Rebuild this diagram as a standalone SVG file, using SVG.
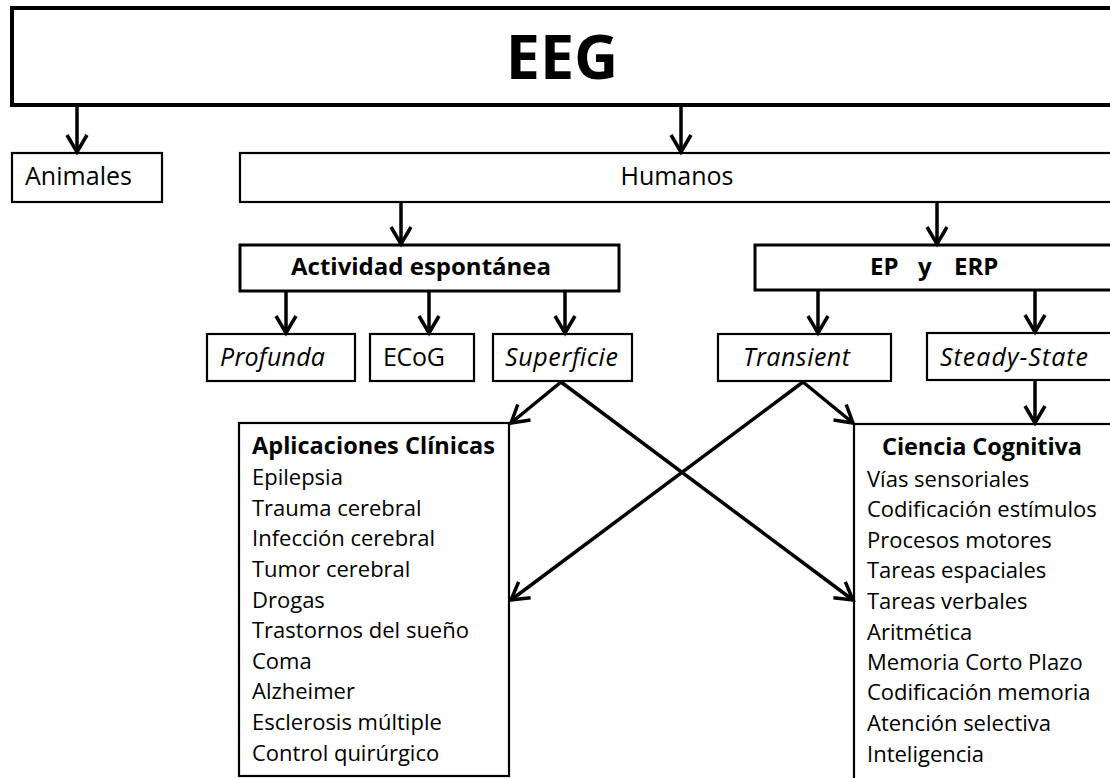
<svg xmlns="http://www.w3.org/2000/svg" width="1110" height="778" viewBox="0 0 1110 778">
<defs>
<style>
.box{fill:#fff;stroke:#000;stroke-width:2.2}
.b3{stroke-width:3}
.b4{stroke-width:4}
text{font-family:"Open Sans","Liberation Sans",sans-serif;font-size:22px;fill:#000}
.lbl{font-size:25px}
.bold{font-weight:bold}
.it{font-style:italic}
.mid{text-anchor:middle}
.conn line{stroke:#000;stroke-width:3.5;marker-end:url(#arr)}
</style>
<marker id="arr" markerUnits="userSpaceOnUse" orient="auto" refX="0" refY="0" markerWidth="40" markerHeight="40" viewBox="-20 -20 40 40" overflow="visible">
<path d="M -17 -10 L 0 0 L -17 10" fill="none" stroke="#000" stroke-width="3.5" stroke-linejoin="miter"/>
</marker>
</defs>
<rect width="1110" height="778" fill="#fff"/>
<g id="eeg"><rect class="box b4" x="12" y="8" width="1100" height="97"/><text class="bold mid" x="562" y="79" style="font-size:61px">EEG</text></g>
<g id="animales"><rect class="box" x="12" y="153" width="150" height="49"/><text class="lbl" x="25" y="185" textLength="107">Animales</text></g>
<g id="humanos"><rect class="box" x="240" y="153" width="874" height="49"/><text class="lbl mid" x="677" y="185" textLength="113">Humanos</text></g>
<g id="actividad"><rect class="box b3" x="240" y="245" width="379" height="46"/><text class="bold mid" x="421" y="275" style="font-size:24px" textLength="260">Actividad espontánea</text></g>
<g id="ep-erp"><rect class="box b3" x="755" y="245" width="360" height="45"/><text class="bold" y="275" style="font-size:24px"><tspan x="870">EP</tspan><tspan x="918">y</tspan><tspan x="954">ERP</tspan></text></g>
<g id="profunda"><rect class="box" x="207" y="334" width="148" height="47"/><text class="lbl it" x="220" y="366" textLength="105">Profunda</text></g>
<g id="ecog"><rect class="box" x="370" y="334" width="104" height="47"/><text class="lbl" x="383" y="366" textLength="62">ECoG</text></g>
<g id="superficie"><rect class="box" x="493" y="334" width="139" height="47"/><text class="lbl it" x="505" y="366" textLength="113">Superficie</text></g>
<g id="transient"><rect class="box" x="718" y="334" width="173" height="47"/><text class="lbl it" x="743" y="366" textLength="107">Transient</text></g>
<g id="steady"><rect class="box" x="927" y="333" width="190" height="47"/><text class="lbl it" x="940" y="366" textLength="148">Steady-State</text></g>
<g id="clinicas"><rect class="box" x="239" y="423" width="270" height="353"/>
<text class="bold" x="252" y="454" style="font-size:23.5px" textLength="243">Aplicaciones Clínicas</text>
<text x="252" y="485">Epilepsia</text>
<text x="252" y="516">Trauma cerebral</text>
<text x="252" y="546">Infección cerebral</text>
<text x="252" y="577">Tumor cerebral</text>
<text x="252" y="608">Drogas</text>
<text x="252" y="638">Trastornos del sueño</text>
<text x="252" y="669">Coma</text>
<text x="252" y="699">Alzheimer</text>
<text x="252" y="730">Esclerosis múltiple</text>
<text x="252" y="761">Control quirúrgico</text>
</g>
<g id="cognitiva"><rect class="box" x="854" y="424" width="260" height="370"/>
<text class="bold mid" x="982" y="455" style="font-size:23.5px" textLength="200">Ciencia Cognitiva</text>
<text x="867" y="487">Vías sensoriales</text>
<text x="867" y="517">Codificación estímulos</text>
<text x="867" y="548">Procesos motores</text>
<text x="867" y="578">Tareas espaciales</text>
<text x="867" y="609">Tareas verbales</text>
<text x="867" y="640">Aritmética</text>
<text x="867" y="670">Memoria Corto Plazo</text>
<text x="867" y="700">Codificación memoria</text>
<text x="867" y="731">Atención selectiva</text>
<text x="867" y="762">Inteligencia</text>
</g>
<g id="connectors" class="conn">
<line x1="77" y1="107" x2="77" y2="152"/>
<line x1="681" y1="107" x2="681" y2="152"/>
<line x1="401" y1="203" x2="401" y2="244"/>
<line x1="937" y1="203" x2="937" y2="244"/>
<line x1="286" y1="292" x2="286" y2="333"/>
<line x1="429" y1="292" x2="429" y2="333"/>
<line x1="565" y1="292" x2="565" y2="333"/>
<line x1="818" y1="291" x2="818" y2="333"/>
<line x1="1035" y1="291" x2="1035" y2="332"/>
<line x1="1035" y1="381" x2="1035" y2="423"/>
<line x1="561" y1="382" x2="511" y2="423"/>
<line x1="561" y1="382" x2="853" y2="600"/>
<line x1="803" y1="382" x2="853" y2="423"/>
<line x1="803" y1="382" x2="511" y2="600"/>
</g>
</svg>
